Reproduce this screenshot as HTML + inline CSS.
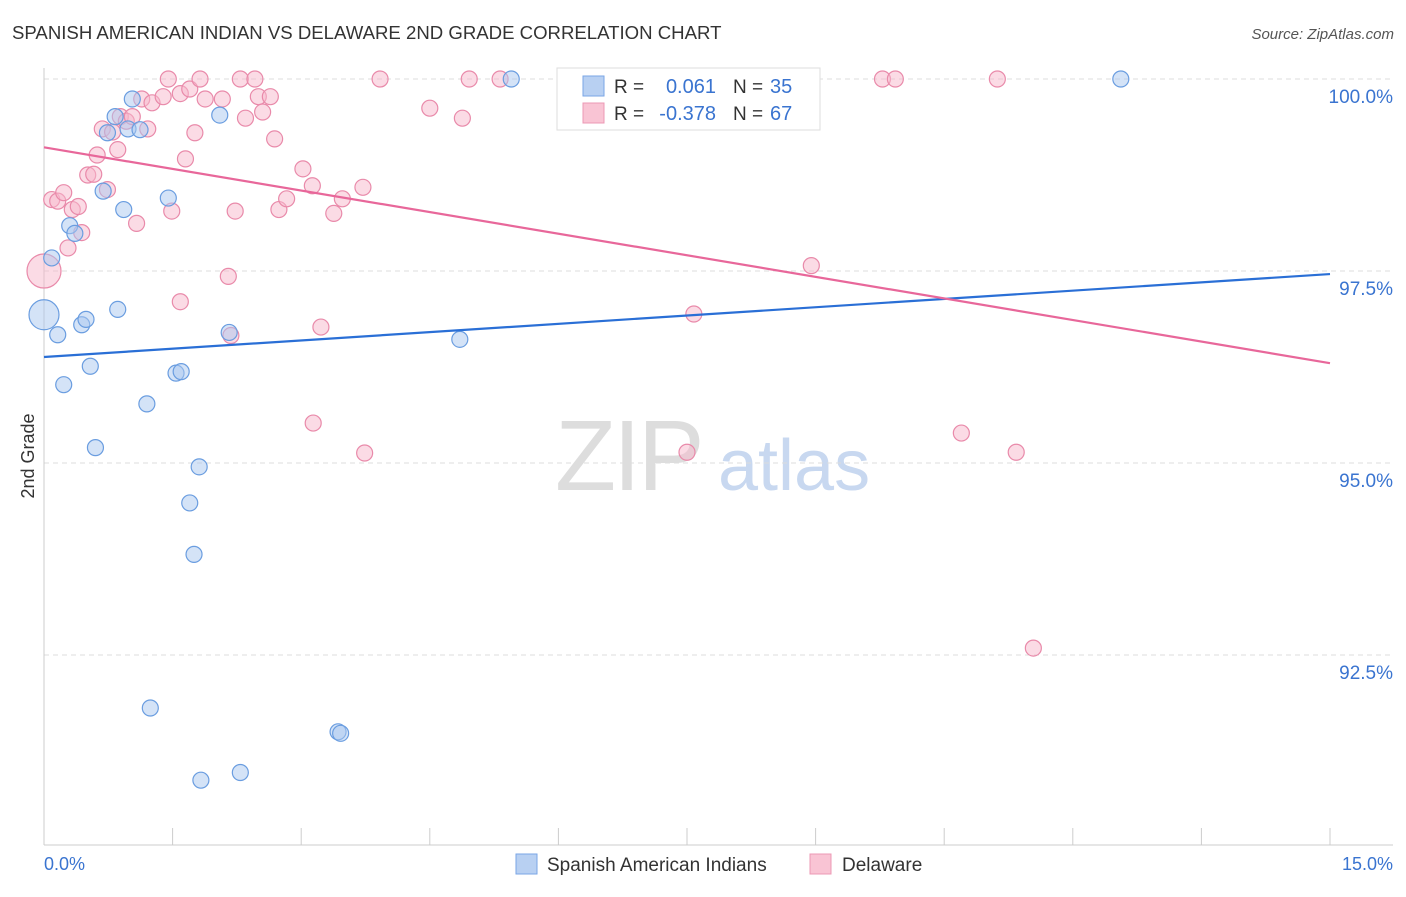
<!DOCTYPE html>
<html><head><meta charset="utf-8"><style>
body{margin:0;background:#fff;font-family:"Liberation Sans",sans-serif;}
svg text{font-family:"Liberation Sans",sans-serif;}
</style></head><body>
<svg id="c" width="1406" height="892">
<text x="12" y="39" font-size="18.6" fill="#333">SPANISH AMERICAN INDIAN VS DELAWARE 2ND GRADE CORRELATION CHART</text>
<text x="1394" y="39" font-size="15" fill="#555" font-style="italic" text-anchor="end">Source: ZipAtlas.com</text>
<text transform="translate(34,456) rotate(-90)" font-size="18" fill="#333" text-anchor="middle">2nd Grade</text>
<text x="555" y="490" font-size="100" fill="#ddd" font-family="Liberation Serif" letter-spacing="-3">ZIP</text>
<text x="718" y="490" font-size="72" fill="#c8d8f0">atlas</text>
<g id="grid"></g><g id="pts"></g><g id="lines"></g>
<g>
<rect x="557" y="68" width="263" height="62" fill="#fff" stroke="#ddd"/>
<rect x="583" y="76" width="21" height="20" fill="#b8d0f2" stroke="#7aa6e6"/>
<rect x="583" y="103" width="21" height="20" fill="#f9c4d4" stroke="#ec98b4"/>
<text x="614" y="93" font-size="19" fill="#333">R =</text><text x="716" y="93" font-size="20" fill="#3a74d0" text-anchor="end">0.061</text>
<text x="733" y="93" font-size="19" fill="#333">N =</text><text x="770" y="93" font-size="20" fill="#3a74d0">35</text>
<text x="614" y="120" font-size="19" fill="#333">R =</text><text x="716" y="120" font-size="20" fill="#3a74d0" text-anchor="end">-0.378</text>
<text x="733" y="120" font-size="19" fill="#333">N =</text><text x="770" y="120" font-size="20" fill="#3a74d0">67</text>
</g>
<g>
<rect x="516" y="854" width="21" height="20" fill="#b8d0f2" stroke="#7aa6e6"/>
<text x="547" y="871" font-size="19" fill="#333">Spanish American Indians</text>
<rect x="810" y="854" width="21" height="20" fill="#f9c4d4" stroke="#ec98b4"/>
<text x="842" y="871" font-size="19" fill="#333">Delaware</text>
</g>
</svg>
<script>
const yTicks=[100,97.5,95,92.5];
const yTickLabels=["100.0%","97.5%","95.0%","92.5%"];
const xLabels=["0.0%","15.0%"];
const blueX=[0.09,0,0.16,0.23,0.44,0.49,0.54,0.6,0.86,0.3,0.36,0.74,0.69,0.83,1.03,0.98,1.12,0.93,1.2,1.45,1.54,1.6,1.81,1.7,1.75,1.24,1.83,2.29,3.43,3.46,2.05,2.16,4.85,5.45,12.56];
const blueY=[97.67,96.93,96.67,96.02,96.8,96.87,96.26,95.2,97.0,98.09,97.99,99.3,98.54,99.51,99.74,99.35,99.34,98.3,95.77,98.45,96.17,96.19,94.95,94.48,93.81,91.81,90.87,90.97,91.5,91.48,99.53,96.7,96.61,100,100];
const pinkX=[0,0.09,0.16,0.23,0.33,0.4,0.28,0.44,0.51,0.58,0.62,0.68,0.74,0.8,0.86,0.89,0.96,1.03,1.08,1.14,1.21,1.26,1.39,1.45,1.49,1.59,1.65,1.7,1.76,1.82,1.59,1.88,2.08,2.23,2.15,2.29,2.35,2.46,2.5,2.55,2.64,2.69,2.74,2.83,3.02,3.13,3.23,3.14,3.38,3.48,3.72,3.74,3.92,4.5,4.88,4.96,5.32,7.5,7.58,8.95,9.78,9.93,10.7,11.12,11.34,11.54,2.18];
const pinkY=[97.5,98.43,98.41,98.52,98.3,98.34,97.8,98.0,98.75,98.76,99.01,99.35,98.56,99.31,99.08,99.51,99.45,99.51,98.12,99.74,99.35,99.69,99.77,100,98.28,99.81,98.96,99.87,99.3,100,97.1,99.74,99.74,98.28,97.43,100,99.49,100,99.77,99.57,99.77,99.22,98.3,98.44,98.83,98.61,96.77,95.52,98.25,98.44,98.59,95.13,100,99.62,99.49,100,100,95.14,96.94,97.57,100,100,95.39,100,95.14,92.59,96.66];
const blueLine=[[0,96.38],[15,97.46]];
const pinkLine=[[0,99.11],[15,96.3]];
const NS="http://www.w3.org/2000/svg";
const X=v=>44+v/15*1286, Y=v=>79+(100-v)*76.8;
function mk(t,a,p){const e=document.createElementNS(NS,t);for(const k in a)e.setAttribute(k,a[k]);p.appendChild(e);return e;}
const g=document.getElementById('grid');
yTicks.forEach((t,i)=>{
 const l=mk('line',{x1:44,x2:1393,y1:Y(t),y2:Y(t),stroke:'#ddd','stroke-dasharray':'5,4'},g);
 
 
 const tx=mk('text',{x:1393,y:Y(t)+24,'font-size':19,fill:'#3a74d0','text-anchor':'end'},g);tx.textContent=yTickLabels[i];
 
 
});
mk('line',{x1:44,x2:44,y1:68,y2:845,stroke:'#ccc'},g);
mk('line',{x1:44,x2:1393,y1:845,y2:845,stroke:'#ccc'},g);
for(let i=0;i<=10;i++){const l=mk('line',{x1:X(i*1.5),x2:X(i*1.5),y1:828,y2:845,stroke:'#ccc'},g);
 
 }
[[0,44,'start'],[15,1393,'end']].forEach((d,i)=>{const t=mk('text',{x:d[1],y:870,'font-size':18,fill:'#3a74d0','text-anchor':d[2]},g);t.textContent=xLabels[i];
 
 });
const p=document.getElementById('pts');
function dots(xs,ys,fill,stroke,name){xs.forEach((x,i)=>{const r=(x===0)?(name==='blue-point'?15:17):8;
 const c=mk('circle',{cx:X(x),cy:Y(ys[i]),r:r,fill:fill,'fill-opacity':0.5,stroke:stroke,'stroke-width':1.2},p);
 
 });}
dots(pinkX,pinkY,'#f7b8cb','#e98aaa','pink-point');
dots(blueX,blueY,'#a9c8f0','#6a9de0','blue-point');
const L=document.getElementById('lines');
const bl=mk('line',{x1:X(blueLine[0][0]),y1:Y(blueLine[0][1]),x2:X(blueLine[1][0]),y2:Y(blueLine[1][1]),stroke:'#2a6fd6','stroke-width':2.2},L);


const pl=mk('line',{x1:X(pinkLine[0][0]),y1:Y(pinkLine[0][1]),x2:X(pinkLine[1][0]),y2:Y(pinkLine[1][1]),stroke:'#e8679a','stroke-width':2.2},L);


</script>
</body></html>
